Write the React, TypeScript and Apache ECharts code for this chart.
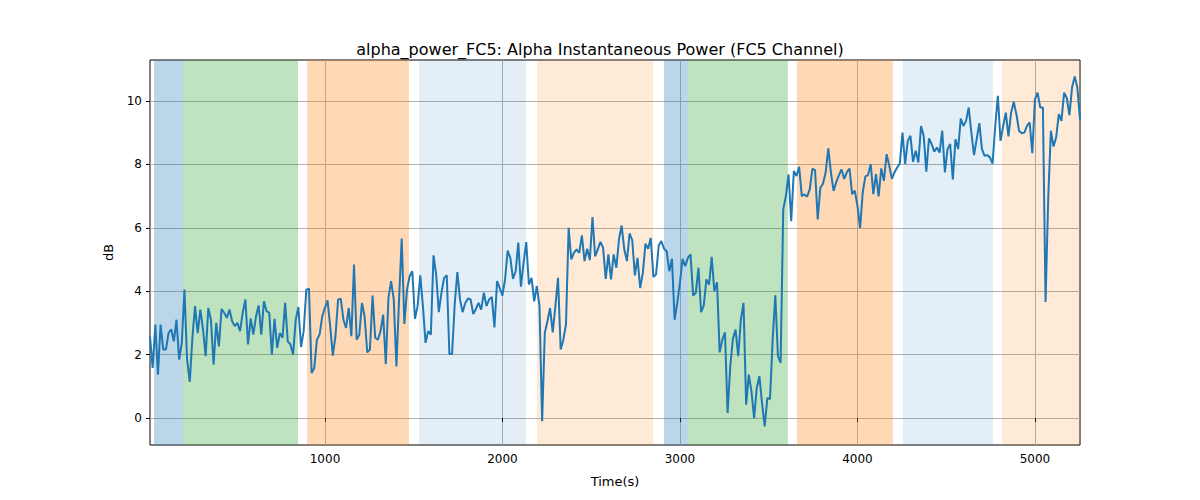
import { useEffect, useRef } from 'react';
import * as echarts from 'echarts';

const title = 'alpha_power_FC5: Alpha Instantaneous Power (FC5 Channel)';
const tStart = 14;
const tEnd = 5254;

// dB values, read left to right
const values = [
  2.58, 1.58, 2.95, 1.37, 2.95, 2.16, 2.16, 2.68, 2.8, 2.42, 3.1, 1.84, 2.37, 4.05, 1.84, 1.14, 2.53, 3.53, 2.68, 3.42,
  2.8, 1.95, 3.47, 3.1, 1.68, 3.0, 2.26, 3.44, 3.32, 3.16, 3.42, 3.05, 2.9, 3.0, 2.74, 3.32, 3.74, 2.32, 3.14, 2.63,
  3.2, 3.55, 2.63, 3.68, 3.37, 3.32, 2.0, 3.13, 2.21, 2.68, 2.53, 3.63, 2.42, 2.32, 2.0, 3.1, 3.5, 2.24, 2.74, 4.05,
  4.08, 1.42, 1.58, 2.47, 2.63, 3.2, 3.47, 3.71, 2.9, 1.97, 2.58, 3.74, 3.76, 3.1, 2.84, 3.47, 2.58, 4.84, 2.47, 2.63,
  3.63, 3.2, 2.07, 2.16, 3.86, 2.53,
  2.47, 2.74, 3.26, 1.7, 3.79, 4.32, 3.74, 1.63, 3.74, 5.66, 2.97, 4.05, 4.47, 4.63, 3.13, 3.53, 4.5, 3.53, 2.37, 2.74,
  2.63, 5.13, 4.53, 3.34, 3.95, 4.42, 4.5, 2.02, 2.02, 3.58, 4.6, 3.74, 3.34, 3.63, 3.77, 3.74, 3.28, 3.44, 3.63, 3.42,
  3.95, 3.53, 3.74, 3.82, 2.86, 4.32, 4.1, 3.86, 4.37, 5.28, 5.05, 4.39, 4.63, 5.53, 4.14, 4.9, 5.55, 4.21, 4.42, 3.68,
  4.16, 3.53, -0.1, 2.68, 3.05, 3.47, 2.7, 3.53, 4.42, 2.16, 2.47, 2.95, 6.0, 5.0, 5.21, 5.32, 5.21, 5.76, 4.95, 5.34,
  4.98, 6.34, 5.1, 5.32, 5.56, 5.37, 4.39, 5.16,
  4.37, 5.16, 4.74, 5.63, 6.07, 5.32, 4.95, 5.82, 5.61, 4.5, 5.05, 4.1, 4.58, 5.5, 5.34, 5.68, 4.45, 4.53, 5.44, 5.58,
  5.34, 5.26, 4.63, 5.02, 3.1, 3.63, 4.26, 5.02, 4.79, 5.05, 5.16, 3.86, 3.95, 4.74, 3.34, 3.55, 4.37, 4.21, 5.08, 4.0,
  4.28, 2.07, 2.47, 2.7, 0.16, 1.63, 2.5, 2.79, 1.95, 3.1, 3.63, 0.42, 1.37, 0.84, 0.0, 0.95, 1.32, 0.47, -0.26, 0.63,
  0.6, 2.47, 3.87, 1.95, 1.74, 6.58, 7.0, 7.68, 6.21, 7.79, 7.63, 7.92, 7.0, 7.05, 6.98, 7.21, 7.86, 7.82, 6.26, 7.26,
  7.39, 7.74, 8.5, 7.74, 7.16, 7.44, 7.65, 7.84,
  7.54, 7.75, 7.87, 7.06, 7.17, 6.7, 5.99, 7.12, 7.62, 7.66, 8.01, 7.06, 7.69, 6.99, 7.87, 7.48, 8.32, 7.96, 7.54, 7.75,
  7.9, 8.03, 9.0, 8.01, 8.74, 8.9, 8.08, 8.43, 8.06, 9.21, 8.9, 7.77, 8.82, 8.64, 8.4, 8.53, 8.37, 9.06, 7.75, 8.48,
  8.64, 7.52, 8.79, 8.48, 9.44, 9.21, 9.37, 9.79, 9.0, 8.29, 8.79, 9.3, 8.48, 8.27, 8.29, 8.22, 8.02, 9.21, 10.16, 8.74,
  9.21, 9.63, 8.88, 9.63, 9.97, 9.58, 9.06, 8.98, 9.0, 9.21, 9.32, 8.35, 10.05, 10.26, 9.79, 9.79, 3.66, 6.91, 9.06, 8.56,
  8.85, 9.58, 9.37, 10.26, 10.1, 9.55, 10.42, 10.77, 10.42, 9.42,
];

// shaded spans
const spanStarts = [37, 200, 899, 1530, 2194, 2910, 3045, 3659, 4256, 4814];
const spanEnds = [200, 848, 1473, 2132, 2848, 3045, 3608, 4200, 4763, 5254];
const spanColors = [
  'rgba(31,119,180,0.3)', 'rgba(44,160,44,0.3)', 'rgba(255,127,14,0.3)', 'rgba(31,119,180,0.12)', 'rgba(255,127,14,0.16)',
  'rgba(31,119,180,0.3)', 'rgba(44,160,44,0.3)', 'rgba(255,127,14,0.3)', 'rgba(31,119,180,0.12)', 'rgba(255,127,14,0.16)',
];

const xTicks = [1000, 2000, 3000, 4000, 5000];
const yTicks = [0, 2, 4, 6, 8, 10];

const App = () => {
  const chartRef = useRef<HTMLDivElement | null>(null);

  useEffect(() => {
    document.body.style.margin = '0';
    const chart = echarts.init(chartRef.current!, null, { renderer: 'svg' });
    const step = (tEnd - tStart) / (values.length - 1);
    const data = values.map((v, i) => [tStart + i * step, v]);
    const font = 'DejaVu Sans';

    chart.setOption({
      animation: false,
      title: {
        text: title,
        left: 'center',
        top: 36,
        textStyle: { fontFamily: font, fontSize: 16, fontWeight: 'normal', color: '#000' },
      },
      grid: { left: 150, right: 120, top: 60, bottom: 55, show: true, borderColor: '#000', borderWidth: 1 },
      xAxis: {
        type: 'value',
        min: tStart,
        max: tEnd,
        name: 'Time(s)',
        nameLocation: 'middle',
        nameGap: 30,
        nameTextStyle: { fontFamily: font, fontSize: 13, color: '#000' },
        axisLine: { show: false },
        axisTick: { show: true, customValues: xTicks, length: 4, lineStyle: { color: '#000' } },
        axisLabel: { customValues: xTicks, formatter: (v: number) => String(v), fontFamily: font, fontSize: 12, color: '#000' },
        splitLine: { show: true, lineStyle: { color: '#b0b0b0', width: 1 } },
      },
      yAxis: {
        type: 'value',
        min: -0.85,
        max: 11.29,
        name: 'dB',
        nameLocation: 'middle',
        nameGap: 35,
        nameTextStyle: { fontFamily: font, fontSize: 13, color: '#000' },
        axisLine: { show: false },
        axisTick: { show: true, customValues: yTicks, length: 4, lineStyle: { color: '#000' } },
        axisLabel: { customValues: yTicks, fontFamily: font, fontSize: 12, color: '#000' },
        splitLine: { show: true, lineStyle: { color: '#b0b0b0', width: 1 } },
      },
      series: [
        {
          type: 'line',
          data,
          showSymbol: false,
          lineStyle: { color: '#1f77b4', width: 2 },
          z: 3,
          markArea: {
            silent: true,
            data: spanStarts.map((s, i) => [
              { xAxis: s, itemStyle: { color: spanColors[i] } },
              { xAxis: spanEnds[i] },
            ]),
          },
        },
      ],
    });

    return () => {
      chart.dispose();
    };
  }, []);

  return <div ref={chartRef} style={{ width: 1200, height: 500 }} />;
};

export default App;
